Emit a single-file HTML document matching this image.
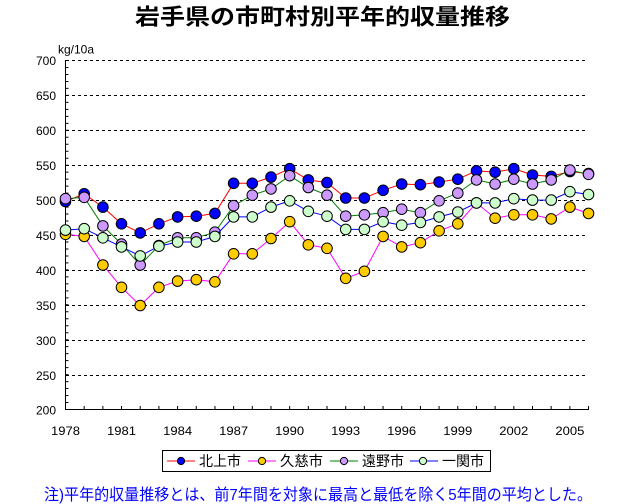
<!DOCTYPE html>
<html>
<head>
<meta charset="utf-8">
<style>
html,body{margin:0;padding:0;background:#fff;}
svg{display:block;}
text{font-family:"Liberation Sans","Noto Sans CJK JP",sans-serif;}
</style>
</head>
<body>
<svg width="640" height="504" viewBox="0 0 640 504" xmlns="http://www.w3.org/2000/svg">
<defs>
<marker id="mb" markerWidth="14" markerHeight="14" refX="7" refY="7" markerUnits="userSpaceOnUse"><circle cx="7" cy="7" r="5.3" fill="#0000ff" stroke="#000" stroke-width="1"/></marker>
<marker id="mo" markerWidth="14" markerHeight="14" refX="7" refY="7" markerUnits="userSpaceOnUse"><circle cx="7" cy="7" r="5.3" fill="#ffcc00" stroke="#000" stroke-width="1"/></marker>
<marker id="mp" markerWidth="14" markerHeight="14" refX="7" refY="7" markerUnits="userSpaceOnUse"><circle cx="7" cy="7" r="5.3" fill="#cc99ff" stroke="#000" stroke-width="1"/></marker>
<marker id="mg" markerWidth="14" markerHeight="14" refX="7" refY="7" markerUnits="userSpaceOnUse"><circle cx="7" cy="7" r="5.3" fill="#ccffcc" stroke="#000" stroke-width="1"/></marker>
</defs>
<rect width="640" height="504" fill="#fff"/>

<!-- Title -->
<text x="135" y="24.5" font-size="22" font-weight="bold" textLength="375" lengthAdjust="spacingAndGlyphs" fill="#000">岩手県の市町村別平年的収量推移</text>

<!-- unit -->
<text x="58" y="53.5" font-size="12" fill="#000">kg/10a</text>

<!-- gridlines -->
<g stroke="#000" stroke-width="1" stroke-dasharray="3,3">
<line x1="66" y1="60.5" x2="586" y2="60.5"/>
<line x1="66" y1="95.5" x2="586" y2="95.5"/>
<line x1="66" y1="130.5" x2="586" y2="130.5"/>
<line x1="66" y1="165.5" x2="586" y2="165.5"/>
<line x1="66" y1="200.5" x2="586" y2="200.5"/>
<line x1="66" y1="235.5" x2="586" y2="235.5"/>
<line x1="66" y1="270.5" x2="586" y2="270.5"/>
<line x1="66" y1="305.5" x2="586" y2="305.5"/>
<line x1="66" y1="340.5" x2="586" y2="340.5"/>
<line x1="66" y1="375.5" x2="586" y2="375.5"/>
</g>

<!-- axes -->
<line x1="65.5" y1="60" x2="65.5" y2="410" stroke="#000" stroke-width="1"/>
<line x1="65" y1="409.5" x2="589" y2="409.5" stroke="#000" stroke-width="1"/>
<line x1="67" y1="60" x2="67" y2="410.5" stroke="#000" stroke-width="3" stroke-dasharray="1 5.98"/>
<line x1="65" y1="407.5" x2="590" y2="407.5" stroke="#000" stroke-width="3" stroke-dasharray="1 17.68"/>

<!-- y labels -->
<g font-size="12" fill="#000" text-anchor="end">
<text x="56" y="65">700</text>
<text x="56" y="100">650</text>
<text x="56" y="135">600</text>
<text x="56" y="170">550</text>
<text x="56" y="205">500</text>
<text x="56" y="240">450</text>
<text x="56" y="275">400</text>
<text x="56" y="310">350</text>
<text x="56" y="345">300</text>
<text x="56" y="380">250</text>
<text x="56" y="414.5">200</text>
</g>

<!-- x labels -->
<g font-size="12" fill="#000" text-anchor="middle">
<text x="65.5" y="435" textLength="29" lengthAdjust="spacingAndGlyphs">1978</text>
<text x="121.5" y="435" textLength="29" lengthAdjust="spacingAndGlyphs">1981</text>
<text x="177.6" y="435" textLength="29" lengthAdjust="spacingAndGlyphs">1984</text>
<text x="233.6" y="435" textLength="29" lengthAdjust="spacingAndGlyphs">1987</text>
<text x="289.7" y="435" textLength="29" lengthAdjust="spacingAndGlyphs">1990</text>
<text x="345.7" y="435" textLength="29" lengthAdjust="spacingAndGlyphs">1993</text>
<text x="401.7" y="435" textLength="29" lengthAdjust="spacingAndGlyphs">1996</text>
<text x="457.8" y="435" textLength="29" lengthAdjust="spacingAndGlyphs">1999</text>
<text x="513.8" y="435" textLength="29" lengthAdjust="spacingAndGlyphs">2002</text>
<text x="569.9" y="435" textLength="29" lengthAdjust="spacingAndGlyphs">2005</text>
</g>

<!-- series -->
<polyline fill="none" stroke="#ff0000" stroke-width="1" marker-start="url(#mb)" marker-mid="url(#mb)" marker-end="url(#mb)"
points="65.5,201.5 84.2,193.8 102.9,207.1 121.5,223.8 140.2,232.9 158.9,223.8 177.6,216.9 196.3,216.2 214.9,213.4 233.6,183.3 252.3,183.3 271.0,177.1 289.7,168.7 308.3,179.9 327.0,182.6 345.7,198.0 364.4,198.0 383.1,190.3 401.7,184.0 420.4,184.7 439.1,182.0 457.8,179.2 476.5,170.8 495.1,172.2 513.8,168.7 532.5,175.0 551.2,176.4 569.9,171.5 588.5,173.6"/>
<polyline fill="none" stroke="#ff00ff" stroke-width="1" marker-start="url(#mo)" marker-mid="url(#mo)" marker-end="url(#mo)"
points="65.5,234.3 84.2,236.4 102.9,265.0 121.5,287.3 140.2,305.5 158.9,287.3 177.6,281.1 196.3,279.7 214.9,281.8 233.6,253.8 252.3,253.8 271.0,238.5 289.7,221.7 308.3,244.8 327.0,248.3 345.7,278.3 364.4,271.3 383.1,236.4 401.7,246.9 420.4,242.7 439.1,230.8 457.8,223.8 476.5,202.9 495.1,218.2 513.8,214.8 532.5,214.8 551.2,218.9 569.9,207.1 588.5,213.4"/>
<polyline fill="none" stroke="#008000" stroke-width="1" marker-start="url(#mp)" marker-mid="url(#mp)" marker-end="url(#mp)"
points="65.5,198.7 84.2,197.3 102.9,225.9 121.5,244.1 140.2,265.0 158.9,245.5 177.6,237.8 196.3,237.8 214.9,232.2 233.6,205.7 252.3,195.2 271.0,188.9 289.7,175.7 308.3,187.5 327.0,195.2 345.7,216.2 364.4,214.8 383.1,212.7 401.7,209.2 420.4,212.7 439.1,200.8 457.8,193.1 476.5,179.9 495.1,184.0 513.8,179.2 532.5,184.0 551.2,179.9 569.9,170.1 588.5,174.3"/>
<polyline fill="none" stroke="#0000ff" stroke-width="1" marker-start="url(#mg)" marker-mid="url(#mg)" marker-end="url(#mg)"
points="65.5,230.1 84.2,228.7 102.9,237.8 121.5,246.9 140.2,255.9 158.9,246.2 177.6,242.0 196.3,242.0 214.9,236.4 233.6,216.9 252.3,216.9 271.0,207.1 289.7,200.8 308.3,211.3 327.0,216.2 345.7,229.4 364.4,229.4 383.1,221.7 401.7,225.2 420.4,222.4 439.1,216.9 457.8,212.0 476.5,202.9 495.1,202.9 513.8,198.7 532.5,200.1 551.2,200.1 569.9,191.7 588.5,194.5"/>

<!-- legend -->
<rect x="162.5" y="450.5" width="328" height="21" fill="#fff" stroke="#000" stroke-width="1"/>
<line x1="167" y1="461" x2="195" y2="461" stroke="#ff0000"/>
<circle cx="181" cy="461" r="3.6" fill="#0000ff" stroke="#000"/>
<text x="199" y="466" font-size="14" textLength="42" lengthAdjust="spacingAndGlyphs" fill="#000">北上市</text>
<line x1="248" y1="461" x2="276" y2="461" stroke="#ff00ff"/>
<circle cx="262" cy="461" r="3.6" fill="#ffcc00" stroke="#000"/>
<text x="280" y="466" font-size="14" textLength="43" lengthAdjust="spacingAndGlyphs" fill="#000">久慈市</text>
<line x1="330" y1="461" x2="358" y2="461" stroke="#008000"/>
<circle cx="344" cy="461" r="3.6" fill="#cc99ff" stroke="#000"/>
<text x="362" y="466" font-size="14" textLength="42" lengthAdjust="spacingAndGlyphs" fill="#000">遠野市</text>
<line x1="410" y1="461" x2="438" y2="461" stroke="#0000ff"/>
<circle cx="423" cy="461" r="3.6" fill="#ccffcc" stroke="#000"/>
<text x="442" y="466" font-size="14" textLength="42" lengthAdjust="spacingAndGlyphs" fill="#000">一関市</text>

<!-- note -->
<text x="44" y="500" font-size="16" textLength="548" lengthAdjust="spacingAndGlyphs" fill="#0000ff">注)平年的収量推移とは、前7年間を対象に最高と最低を除く5年間の平均とした。</text>
</svg>
</body>
</html>
